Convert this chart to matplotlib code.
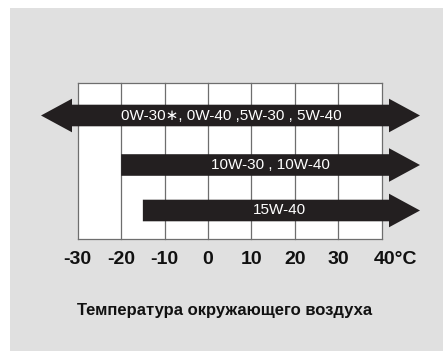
import matplotlib
matplotlib.use("Agg")
import matplotlib.pyplot as plt
from matplotlib.patches import Polygon, Rectangle

# data
temps = [-30, -20, -10, 0, 10, 20, 30, 40]
tick_labels = ["-30", "-20", "-10", "0", "10", "20", "30", "40°C"]
grades = ["0W-30∗, 0W-40 ,5W-30 , 5W-40", "10W-30 , 10W-40", "15W-40"]
start_temp = [-30, -20, -15]
open_left = [True, False, False]
title = "Температура окружающего воздуха"

fam = ["Liberation Sans", "DejaVu Sans"]

W, H = 443, 351
fig = plt.figure(figsize=(W / 100, H / 100), dpi=100)
fig.patch.set_facecolor("white")
fig.add_artist(Rectangle((10 / W, 0), 1, 1 - 8 / H, transform=fig.transFigure,
                         facecolor="#e0e0e0", edgecolor="none", zorder=0))

ax = fig.add_axes([0, 0, 1, 1])
ax.set_axis_off()
s = 304 / 70.0  # px per degree
ax.set_xlim(-208 / s, (W - 208) / s)
ax.set_ylim(H, 0)

grid_top, grid_bot = 83, 239
ax.add_patch(Rectangle((temps[0], grid_top), temps[-1] - temps[0], grid_bot - grid_top,
                       facecolor="white", edgecolor="none", zorder=1))
for t in temps:
    ax.plot([t, t], [grid_top, grid_bot], color="#6e6e6e", lw=0.9, zorder=2)
ax.plot([temps[0], temps[-1]], [grid_top, grid_top], color="#6e6e6e", lw=0.9, zorder=2)
ax.plot([temps[0], temps[-1]], [grid_bot, grid_bot], color="#6e6e6e", lw=0.9, zorder=2)

rows_y = [115.5, 165, 210.5]
body = 10.8
head = 16.8
head_len = 31 / s
tip = 420 / s - 208 / s
left_tip = (41 - 208) / s
dark = "#231f20"
label_x = [5.3, 14.3, 16.4]

for y, x0, ol, lab, lx in zip(rows_y, start_temp, open_left, grades, label_x):
    hb = tip - head_len
    pts = [(hb, y - body), (hb, y - head), (tip, y), (hb, y + head), (hb, y + body)]
    if ol:
        lb = left_tip + head_len
        pts += [(lb, y + body), (lb, y + head), (left_tip, y), (lb, y - head), (lb, y - body)]
    else:
        pts += [(x0, y + body), (x0, y - body)]
    ax.add_patch(Polygon(pts, closed=True, facecolor=dark, edgecolor="none", zorder=3))
    ax.text(lx, y, lab, color="white", fontsize=11, family=fam,
            ha="center", va="center", zorder=4)

for t, lab in zip(temps, tick_labels):
    ha = "center"
    x = t
    if lab.endswith("C"):
        ha = "left"
        x = t - 1.8
    ax.text(x, 259, lab, fontsize=14, fontweight="bold", family=fam,
            ha=ha, va="center", color="#111111")

ax.text(225 / s - 208 / s, 311, title, fontsize=12, fontweight="bold",
        family=fam, ha="center", va="center", color="#111111")

fig.savefig("out.png", dpi=100, facecolor=fig.get_facecolor())
